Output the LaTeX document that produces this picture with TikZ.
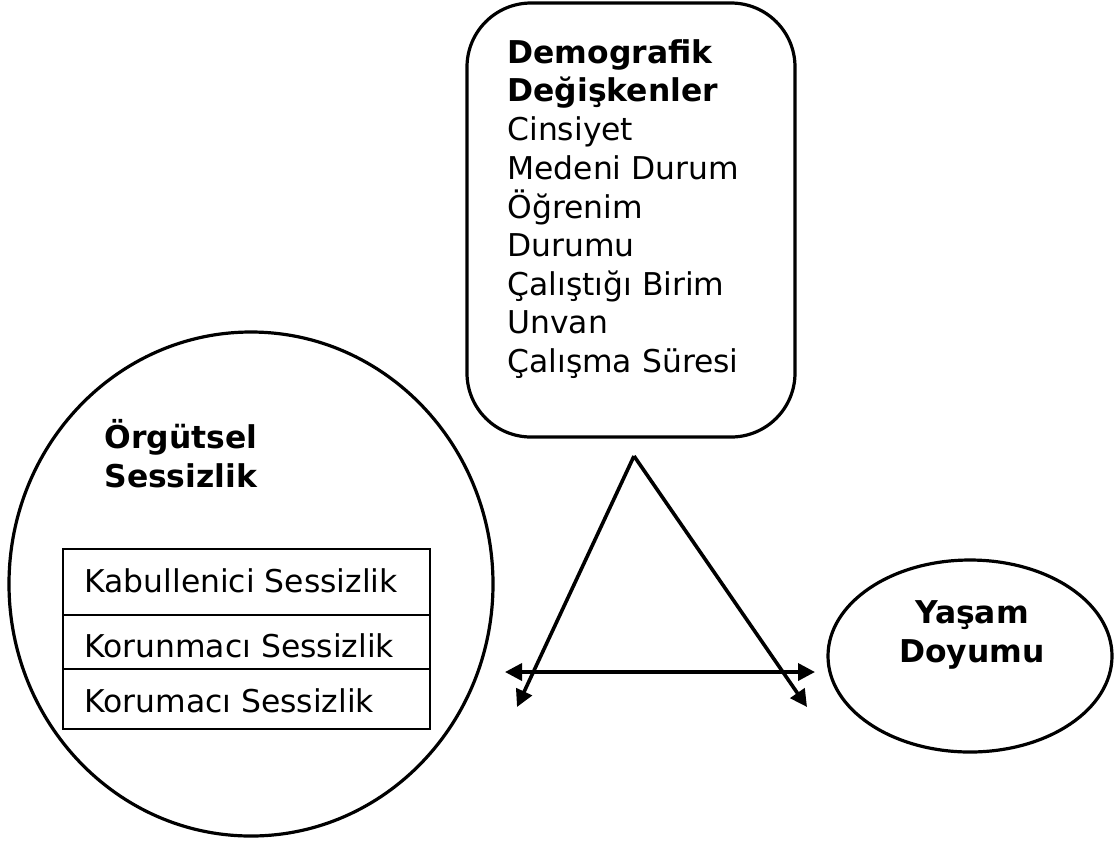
\documentclass[tikz,border=0pt]{standalone}
\usepackage{fontspec}
\setmainfont{DejaVu Sans}
\usetikzlibrary{arrows.meta,shapes.geometric}

\tikzset{
  txt/.style={anchor=base west, inner sep=0pt, font=\fontsize{15.7pt}{18pt}\selectfont},
  btxt/.style={txt, font=\fontsize{15.7pt}{18pt}\selectfont\bfseries},
  ctxt/.style={btxt, anchor=base},
  row/.style={draw, line width=0.9pt, inner sep=0pt, minimum width=183.5pt},
  arr/.style={line width=1.8pt, -{Triangle[length=8.5pt,width=8.5pt]}},
}

\begin{document}
\begin{tikzpicture}[x=0.5pt,y=-0.5pt]
\useasboundingbox (0,0) rectangle (1114,843);

% shapes
\node[draw, line width=1.6pt, rounded corners=32pt, minimum width=164pt, minimum height=217pt, inner sep=0pt] (demo) at (631,220) {};
\node[draw, line width=1.6pt, ellipse, minimum width=242pt, minimum height=252pt, inner sep=0pt] (orgut) at (251,584) {};
\node[draw, line width=1.6pt, ellipse, minimum width=142pt, minimum height=96pt, inner sep=0pt] (yasam) at (970,656) {};

\node[row, minimum height=33pt] (r1) at (246.5,582) {};
\node[row, minimum height=27pt] (r2) at (246.5,642) {};
\node[row, minimum height=30pt] (r3) at (246.5,699) {};

% texts
\node[btxt] (d1) at (507,63) {Demografik};
\node[btxt] (d2) at (507,101) {Değişkenler};
\node[txt] (d3) at (507,140) {Cinsiyet};
\node[txt] (d4) at (507,179) {Medeni Durum};
\node[txt] (d5) at (507,218) {Öğrenim};
\node[txt] (d6) at (507,256) {Durumu};
\node[txt] (d7) at (507,295) {Çalıştığı Birim};
\node[txt] (d8) at (507,333) {Unvan};
\node[txt] (d9) at (507,372) {Çalışma Süresi};

\node[btxt] (o1) at (104,448) {Örgütsel};
\node[btxt] (o2) at (104,487) {Sessizlik};

\node[txt] (k1) at (84,592) {Kabullenici Sessizlik};
\node[txt] (k2) at (84,657) {Korunmacı Sessizlik};
\node[txt] (k3) at (84,712) {Korumacı Sessizlik};

\node[ctxt] (y1) at (972,623) {Yaşam};
\node[ctxt] (y2) at (972,662) {Doyumu};

% arrows
\coordinate (top) at (634,456);
\coordinate (bl) at (517,707);
\coordinate (br) at (807,707);
\coordinate (hl) at (505,672);
\coordinate (hr) at (815,672);

\draw[arr] (top) -- (bl);
\draw[arr] (top) -- (br);
\draw[arr, {Triangle[length=8.5pt,width=8.5pt]}-{Triangle[length=8.5pt,width=8.5pt]}] (hl) -- (hr);
\end{tikzpicture}
\end{document}
